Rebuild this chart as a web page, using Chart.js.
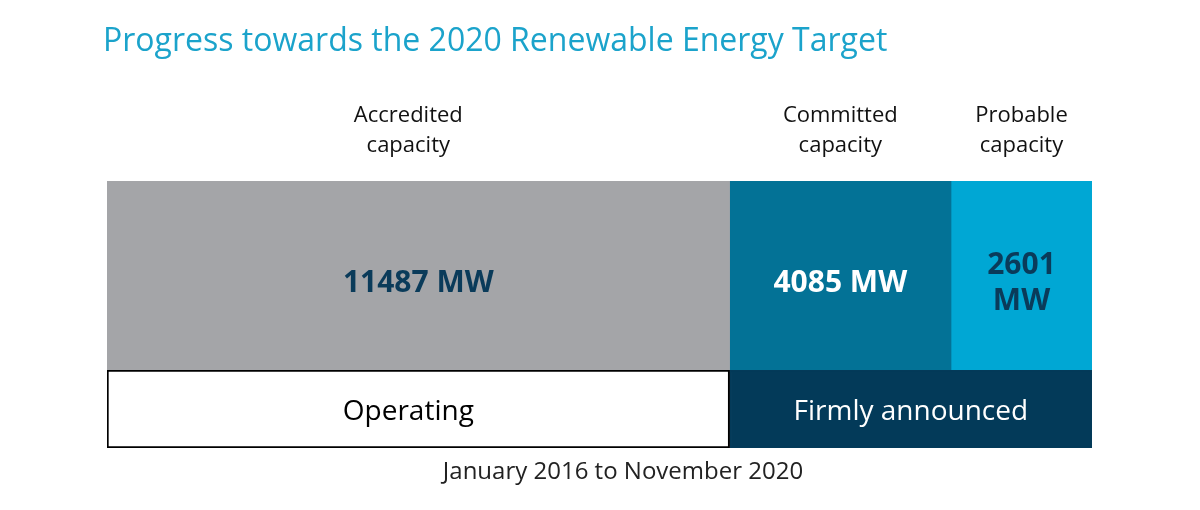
<!DOCTYPE html>
<html>
<head>
<meta charset="utf-8">
<script src="https://cdn.jsdelivr.net/npm/chart.js@4"></script>
<style>
  body { margin: 0; background: #fff; }
  #wrap { position: relative; width: 1200px; height: 510px; overflow: hidden; }
  canvas { position: absolute; left: 0; }
  #top { top: 0; }
  #bottom { top: 370px; }
</style>
</head>
<body>
<div id="wrap">
  <canvas id="top" width="1200" height="370"></canvas>
  <canvas id="bottom" width="1200" height="140"></canvas>
</div>
<script>
// chart values
var title = 'Progress towards the 2020 Renewable Energy Target';
var period = 'January 2016 to November 2020';
var capacityNames = [['Accredited', 'capacity'], ['Committed', 'capacity'], ['Probable', 'capacity']];
var capacityMW = [11487, 4085, 2601];
var capacityLabels = [['11487 MW'], ['4085 MW'], ['2601', 'MW']];
var statusNames = ['Operating', 'Firmly announced'];
var statusMW = [11487, 6686];
var totalMW = 18173;

var capColors = ['#a4a5a8', '#037296', '#00a7d4'];
var capText = ['#0a3b5a', '#ffffff', '#0a3b5a'];
var statusColors = ['#ffffff', '#033a59'];
var statusBorders = ['#000000', '#033a59'];
var statusText = ['#000000', '#ffffff'];
// the left column's captions sit a little left of the bar centre
var captionShift = [-10, 0, 0];

function makeScales() {
    return {
        x: { stacked: true, min: 0, max: totalMW, display: false },
        y: { stacked: true, display: false }
    };
}

// draws text inside and above segments
var capacityText = {
    id: 'capacityText',
    afterDatasetsDraw: function (chart) {
        var ctx = chart.ctx;
        ctx.save();
        ctx.textAlign = 'left';
        ctx.textBaseline = 'alphabetic';
        ctx.fillStyle = '#1ba3cb';
        ctx.font = '32px "Open Sans"';
        ctx.fillText(title, 103, 51);
        ctx.textAlign = 'center';
        ctx.textBaseline = 'middle';
        chart.data.datasets.forEach(function (ds, i) {
            var bar = chart.getDatasetMeta(i).data[0];
            var cx = (bar.x + bar.base) / 2;
            ctx.fillStyle = '#111111';
            ctx.font = '22px "Open Sans"';
            capacityNames[i].forEach(function (line, j) {
                ctx.fillText(line, cx + captionShift[i], 116 + j * 30);
            });
            ctx.fillStyle = capText[i];
            ctx.font = 'bold 30px "Open Sans"';
            var lines = capacityLabels[i];
            var y0 = bar.y + 8 - (lines.length - 1) * 18;
            lines.forEach(function (line, j) {
                ctx.fillText(line, cx, y0 + j * 36);
            });
        });
        ctx.restore();
    }
};

var statusTextPlugin = {
    id: 'statusText',
    afterDatasetsDraw: function (chart) {
        var ctx = chart.ctx;
        ctx.save();
        ctx.textAlign = 'center';
        ctx.textBaseline = 'middle';
        chart.data.datasets.forEach(function (ds, i) {
            var bar = chart.getDatasetMeta(i).data[0];
            ctx.fillStyle = statusText[i];
            ctx.font = '28px "Open Sans"';
            ctx.fillText(statusNames[i], (bar.x + bar.base) / 2 + captionShift[i], bar.y + 3);
        });
        ctx.fillStyle = '#222222';
        ctx.font = '24px "Open Sans"';
        ctx.fillText(period, 623, 102);
        ctx.restore();
    }
};

new Chart(document.getElementById('top'), {
    type: 'bar',
    data: {
        labels: ['capacity'],
        datasets: capacityMW.map(function (v, i) {
            return {
                label: capacityNames[i].join(' '),
                data: [v],
                backgroundColor: capColors[i],
                borderWidth: 0,
                barPercentage: 1,
                categoryPercentage: 1
            };
        })
    },
    options: {
        indexAxis: 'y',
        responsive: false,
        animation: false,
        layout: { padding: { left: 107, right: 108, top: 181, bottom: 0 } },
        scales: makeScales(),
        plugins: { legend: { display: false }, tooltip: { enabled: false } }
    },
    plugins: [capacityText]
});

new Chart(document.getElementById('bottom'), {
    type: 'bar',
    data: {
        labels: ['status'],
        datasets: statusMW.map(function (v, i) {
            return {
                label: statusNames[i],
                data: [v],
                backgroundColor: statusColors[i],
                borderColor: statusBorders[i],
                borderWidth: 2,
                borderSkipped: false,
                barPercentage: 1,
                categoryPercentage: 1
            };
        })
    },
    options: {
        indexAxis: 'y',
        responsive: false,
        animation: false,
        layout: { padding: { left: 107, right: 108, top: 0, bottom: 62 } },
        scales: makeScales(),
        plugins: { legend: { display: false }, tooltip: { enabled: false } }
    },
    plugins: [statusTextPlugin]
});
</script>
</body>
</html>
